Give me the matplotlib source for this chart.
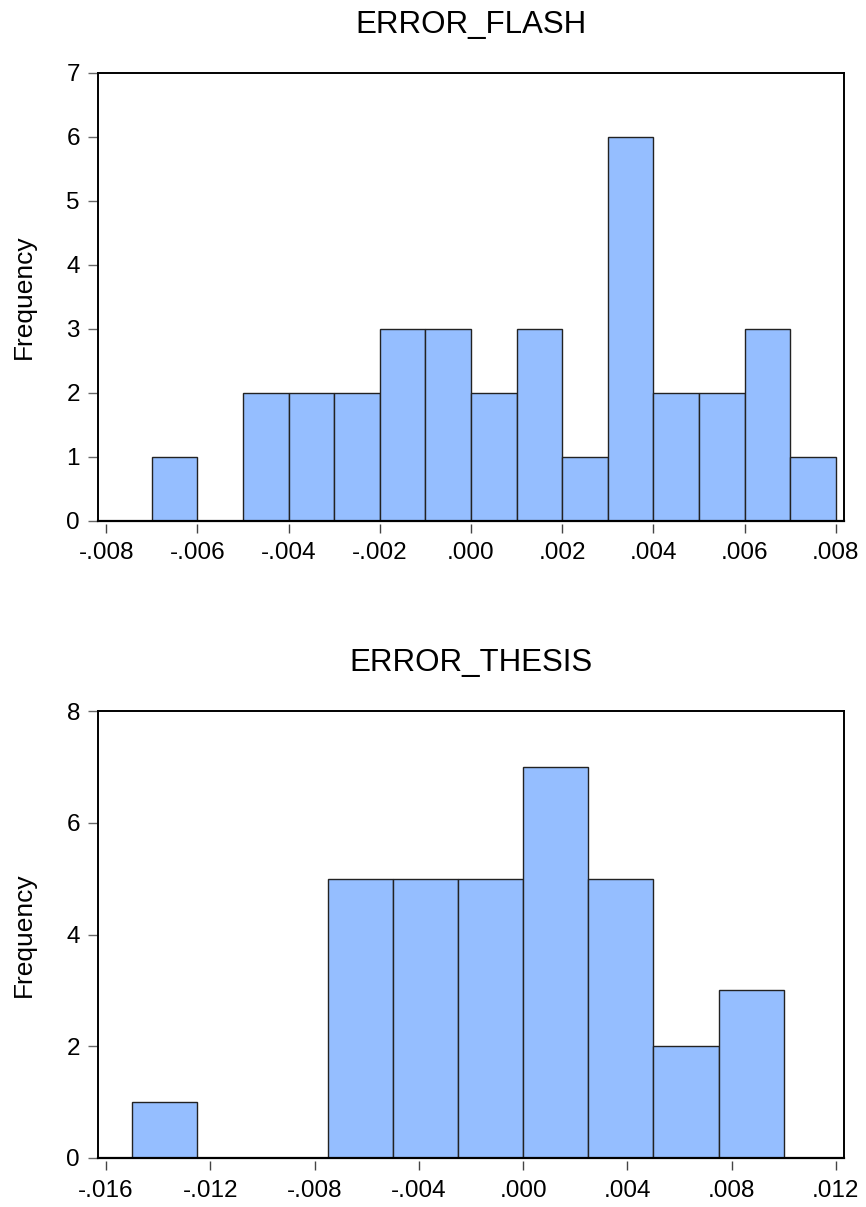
import numpy as np
import matplotlib
matplotlib.use('Agg')
import matplotlib.pyplot as plt

plt.rcParams['font.family'] = ['Liberation Sans', 'DejaVu Sans']

# ERROR_FLASH: межі інтервалів та частоти
flash_edges = [-0.008, -0.007, -0.006, -0.005, -0.004, -0.003, -0.002, -0.001, 0.000,
               0.001, 0.002, 0.003, 0.004, 0.005, 0.006, 0.007, 0.008]
flash_counts = [0, 1, 0, 2, 2, 2, 3, 3, 2, 3, 1, 6, 2, 2, 3, 1]
flash_xticks = [-0.008, -0.006, -0.004, -0.002, 0.000, 0.002, 0.004, 0.006, 0.008]
flash_xlabels = ['-.008', '-.006', '-.004', '-.002', '.000', '.002', '.004', '.006', '.008']
flash_yticks = [0, 1, 2, 3, 4, 5, 6, 7]

# ERROR_THESIS
thesis_edges = [-0.015, -0.0125, -0.010, -0.0075, -0.005, -0.0025, 0.000,
                0.0025, 0.005, 0.0075, 0.010]
thesis_counts = [1, 0, 0, 5, 5, 5, 7, 5, 2, 3]
thesis_xticks = [-0.016, -0.012, -0.008, -0.004, 0.000, 0.004, 0.008, 0.012]
thesis_xlabels = ['-.016', '-.012', '-.008', '-.004', '.000', '.004', '.008', '.012']
thesis_yticks = [0, 2, 4, 6, 8]

BAR_COLOR = '#95BEFF'


def draw_hist(ax, title, edges, counts, xticks, xlabels, yticks, xlim):
    edges = np.array(edges)
    ax.bar(edges[:-1], counts, width=np.diff(edges), align='edge',
           color=BAR_COLOR, edgecolor='#222222', linewidth=1.0, zorder=2)
    ax.set_xlim(*xlim)
    ax.set_ylim(yticks[0], yticks[-1])
    ax.set_xticks(xticks)
    ax.set_xticklabels(xlabels)
    ax.set_yticks(yticks)
    ax.set_title(title, fontsize=22.5, pad=29)
    ax.set_ylabel('Frequency', fontsize=19, labelpad=22)

    for side in ['top', 'left', 'right']:
        ax.spines[side].set_linewidth(1.4)
        ax.spines[side].set_color('black')
    # вісь x трохи відсунута від рамки
    ax.spines['bottom'].set_position(('outward', 2))
    ax.spines['bottom'].set_visible(False)
    ax.axhline(yticks[0], color='black', linewidth=1.6, clip_on=False, zorder=3)

    ax.tick_params(axis='x', direction='out', length=6.5, width=1.0,
                   color='#444444', labelsize=17.5, pad=7)
    ax.tick_params(axis='y', direction='out', length=7, width=1.0,
                   color='#666666', labelsize=17.5, pad=6)


fig = plt.figure(figsize=(8.66, 12.07), dpi=100)
ax1 = fig.add_axes([0.1132, 0.5684, 0.8614, 0.3712])
ax2 = fig.add_axes([0.1132, 0.0406, 0.8614, 0.3703])

draw_hist(ax1, 'ERROR_FLASH', flash_edges, flash_counts, flash_xticks,
          flash_xlabels, flash_yticks, (-0.00818, 0.00818))
draw_hist(ax2, 'ERROR_THESIS', thesis_edges, thesis_counts, thesis_xticks,
          thesis_xlabels, thesis_yticks, (-0.01631, 0.01231))

fig.savefig('out.png', dpi=100)
